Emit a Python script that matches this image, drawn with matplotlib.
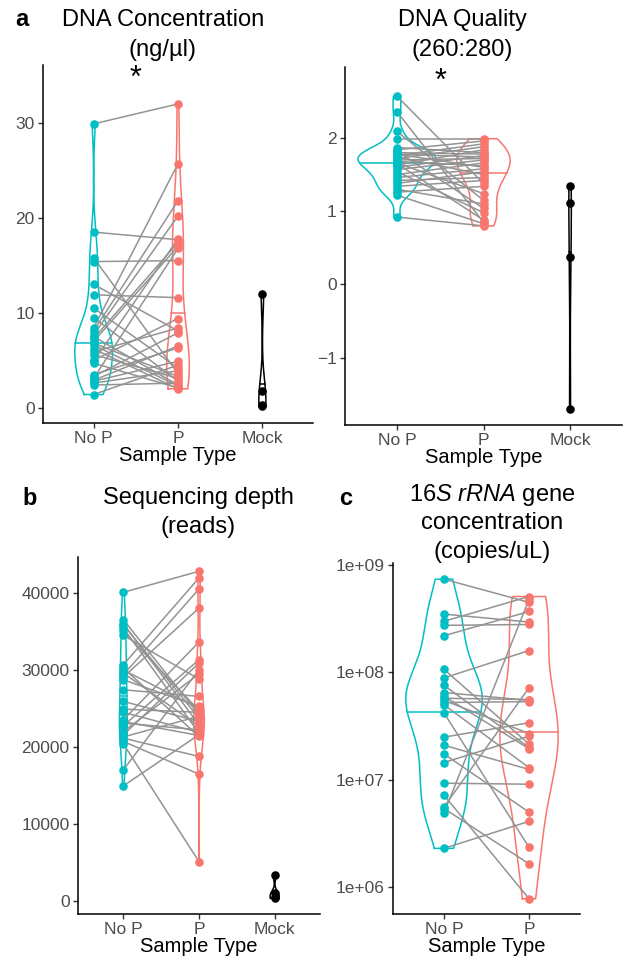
import numpy as np
import matplotlib
matplotlib.use('Agg')
import matplotlib.pyplot as plt

plt.rcParams['font.family'] = ['Liberation Sans', 'DejaVu Sans']
plt.rcParams['mathtext.fontset'] = 'custom'
plt.rcParams['mathtext.rm'] = 'Liberation Sans'
plt.rcParams['mathtext.it'] = 'Liberation Sans:italic'

TEAL = '#00BFC4'
SALMON = '#F8766D'
PAIR_GREY = '#939393'
TICK_GREY = '#4D4D4D'

# DNA concentration (ng/ul), paired No P / P samples, plus mock extractions
conc_nop = [29.9, 18.5, 15.8, 15.4, 13.0, 11.9, 10.5, 9.5, 8.4, 8.1, 7.7, 7.3, 7.0, 6.6, 5.9,
            5.6, 5.0, 4.7, 3.5, 3.1, 2.8, 2.4, 1.4, 6.2, 3.3, 2.6, 7.5, 6.8, 4.9, 2.9]
conc_p = [32.0, 17.7, 3.6, 15.5, 8.1, 11.6, 4.2, 2.8, 25.7, 21.8, 20.2, 17.4, 17.0, 2.3, 8.4,
          3.1, 9.4, 2.1, 6.3, 16.8, 4.9, 2.6, 4.5, 2.0, 7.9, 3.9, 2.4, 3.3, 17.8, 6.5]
conc_mock = [0.2, 0.3, 1.8, 12.0]

# DNA quality (260:280)
qual_nop = [2.57, 2.36, 2.09, 1.99, 1.87, 1.84, 1.82, 1.80, 1.78, 1.76, 1.74, 1.72, 1.70, 1.68, 1.66,
            1.63, 1.60, 1.57, 1.54, 1.50, 1.46, 1.42, 1.38, 1.34, 1.30, 1.26, 1.22, 1.78, 1.65, 0.92]
qual_p = [1.38, 0.85, 1.15, 1.99, 1.80, 1.96, 1.04, 1.78, 1.74, 1.92, 1.50, 1.88, 1.72, 1.62, 1.24,
          1.84, 1.76, 1.70, 0.98, 1.66, 1.58, 1.46, 1.54, 1.42, 1.10, 1.34, 0.83, 1.60, 0.88, 0.80]
qual_mock = [1.35, 1.11, 0.38, -1.70]

# Sequencing depth (reads)
depth_nop = [40090, 36540, 35900, 35450, 35020, 34500, 30690, 30250, 29390, 29080, 28730, 27430,
             25920, 24920, 23530, 23100, 22750, 21580, 21150, 20720, 20410, 17030, 14950, 29600,
             22000, 21300, 24500, 30000, 36000, 23300]
depth_p = [42820, 24180, 23750, 21800, 24750, 28820, 41950, 21370, 40520, 38050, 25270, 26570,
           23320, 24500, 33630, 22230, 31340, 30900, 18770, 16470, 5110, 30030, 21600, 22700,
           29500, 24000, 21900, 25000, 22900, 21500]
depth_mock = [350, 560, 1000, 3380]

# 16S rRNA gene concentration (copies/uL)
gene_nop = [7.4e8, 3.5e8, 3.0e8, 2.75e8, 2.2e8, 1.07e8, 8.9e7, 7.6e7, 6.5e7, 6.0e7, 5.75e7, 5.5e7,
            5.25e7, 5.0e7, 4.2e7, 2.5e7, 2.1e7, 1.74e7, 1.45e7, 9.3e6, 7.2e6, 5.6e6, 5.4e6, 4.9e6, 2.3e6]
gene_p = [4.5e8, 2.95e8, 5.1e8, 2.8e8, 3.7e8, 2.15e7, 1.6e8, 2.0e7, 5.5e7, 1.95e7, 5.6e7, 2.7e7,
          5.35e7, 1.3e7, 2.35e6, 3.4e7, 1.25e7, 5.0e6, 2.55e7, 9.1e6, 7.8e5, 7.2e7, 1.65e6, 4.8e8, 4.1e6]

groups3 = ['No P', 'P', 'Mock']
groups2 = ['No P', 'P']


def nrd0(v):
    sd = np.std(v, ddof=1)
    iqr = np.subtract(*np.percentile(v, [75, 25]))
    lo = min(sd, iqr / 1.34) if iqr > 0 else sd
    return 0.9 * lo * len(v) ** -0.2


def ydensity(v):
    bw = nrd0(v)
    grid = np.linspace(v.min(), v.max(), 512)
    d = np.exp(-0.5 * ((grid[:, None] - v[None, :]) / bw) ** 2).sum(1)
    return grid, d / (len(v) * bw * np.sqrt(2 * np.pi))


def draw_violins(ax, groups, colors, log=False, width=0.9):
    # violins trimmed to the data range, width scaled by density and group size
    dens = []
    for vals in groups:
        v = np.log10(vals) if log else np.asarray(vals, float)
        dens.append(ydensity(v))
    dmax = max(d.max() for _, d in dens)
    nmax = max(len(g) for g in groups)
    for i, ((grid, d), vals, col) in enumerate(zip(dens, groups, colors)):
        w = width / 2 * d / dmax * len(vals) / nmax
        x = i + 1
        xs = np.concatenate([x - w, (x + w)[::-1], [x - w[0]]])
        ys = np.concatenate([grid, grid[::-1], [grid[0]]])
        cdf = np.cumsum(d) / d.sum()
        ym = np.interp(0.5, cdf, grid)
        wm = np.interp(ym, grid, w)
        if log:
            ys = 10 ** ys
            ym = 10 ** ym
        ax.plot(xs, ys, color=col, lw=1.1, zorder=1)
        ax.plot([x - wm, x + wm], [ym, ym], color=col, lw=1.1, zorder=1)


def draw_pairs(ax, nop, p, mock=None):
    for a, b in zip(nop, p):
        ax.plot([1, 2], [a, b], color=PAIR_GREY, lw=1.1, zorder=2)
    ax.scatter(np.full(len(nop), 1), nop, s=38, color=TEAL, zorder=3, linewidths=0)
    ax.scatter(np.full(len(p), 2), p, s=38, color=SALMON, zorder=3, linewidths=0)
    if mock is not None:
        ax.scatter(np.full(len(mock), 3), mock, s=38, color='black', zorder=3, linewidths=0)


def style(ax, labels):
    for s in ['top', 'right']:
        ax.spines[s].set_visible(False)
    for s in ['left', 'bottom']:
        ax.spines[s].set_linewidth(1.1)
    ax.set_xticks(range(1, len(labels) + 1))
    ax.set_xticklabels(labels)
    ax.set_xlim(0.4, len(labels) + 0.6)
    ax.tick_params(labelsize=12.5, labelcolor=TICK_GREY, color='#333333', length=3.5, width=1.0, pad=2.5)
    ax.set_xlabel('Sample Type', fontsize=14.5, labelpad=0)


W, H = 625, 960
fig = plt.figure(figsize=(W / 100, H / 100), dpi=100)


def add_axes(left, right, top, bottom):
    return fig.add_axes([left / W, 1 - bottom / H, (right - left) / W, (bottom - top) / H])


def ftext(x, y, s, **kw):
    fig.text(x / W, 1 - y / H, s, ha=kw.pop('ha', 'center'), va='center', **kw)


# a: DNA concentration
ax = add_axes(43, 313, 65, 423)
draw_violins(ax, [conc_nop, conc_p, conc_mock], [TEAL, SALMON, 'black'], width=0.63)
draw_pairs(ax, conc_nop, conc_p, conc_mock)
ax.text(1.5, 34.6, '*', ha='center', va='center', fontsize=22)
ax.set_ylim(-1.6, 36.1)
ax.set_yticks([0, 10, 20, 30])
style(ax, groups3)
ftext(163, 20, 'DNA Concentration', fontsize=17)
ftext(163, 50, '(ng/µl)', fontsize=17)
ftext(22, 20, 'a', fontsize=17, fontweight='bold')

# DNA quality
ax = add_axes(345, 622, 67, 425)
draw_violins(ax, [qual_nop, qual_p, qual_mock], [TEAL, SALMON, 'black'])
draw_pairs(ax, qual_nop, qual_p, qual_mock)
ax.text(1.5, 2.76, '*', ha='center', va='center', fontsize=22)
ax.set_ylim(-1.92, 2.97)
ax.set_yticks([-1, 0, 1, 2])
style(ax, groups3)
ftext(462, 20, 'DNA Quality', fontsize=17)
ftext(462, 50, '(260:280)', fontsize=17)

# b: sequencing depth
ax = add_axes(78, 320, 557, 914)
draw_violins(ax, [depth_nop, depth_p, depth_mock], [TEAL, SALMON, 'black'])
draw_pairs(ax, depth_nop, depth_p, depth_mock)
ax.set_ylim(-1690, 44675)
ax.set_yticks([0, 10000, 20000, 30000, 40000])
style(ax, groups3)
ftext(198, 498, 'Sequencing depth', fontsize=17)
ftext(198, 527, '(reads)', fontsize=17)
ftext(30, 498, 'b', fontsize=17, fontweight='bold')

# c: 16S rRNA gene concentration
ax = add_axes(393, 580, 563, 914)
ax.set_yscale('log')
draw_violins(ax, [gene_nop, gene_p], [TEAL, SALMON], log=True)
draw_pairs(ax, gene_nop, gene_p)
ax.set_ylim(10 ** 5.75, 10 ** 9.02)
ax.set_yticks([1e6, 1e7, 1e8, 1e9])
ax.set_yticklabels(['1e+06', '1e+07', '1e+08', '1e+09'])
ax.minorticks_off()
style(ax, groups2)
ftext(492, 495, r'$\mathit{16S\ rRNA}$ gene', fontsize=17)
ftext(492, 523, 'concentration', fontsize=17)
ftext(492, 552, '(copies/uL)', fontsize=17)
ftext(346, 498, 'c', fontsize=17, fontweight='bold')

fig.savefig('out.png', dpi=100)
